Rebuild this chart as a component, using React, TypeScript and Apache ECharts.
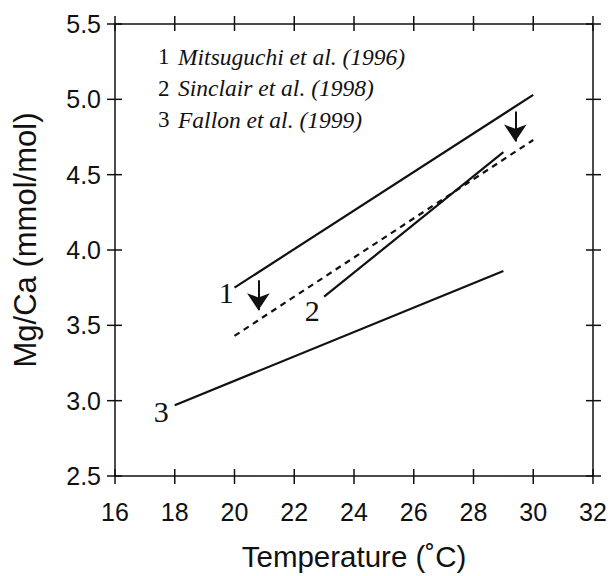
import React, { useEffect, useRef } from "react";
import * as echarts from "echarts";

const xTicks = { min: 16, max: 32, interval: 2 };
const yTicks = { min: 2.5, max: 5.5, interval: 0.5 };
const xTickValues = [16, 18, 20, 22, 24, 26, 28, 30, 32];
const yTickValues = [2.5, 3.0, 3.5, 4.0, 4.5, 5.0, 5.5];

const line1 = [[20, 3.75], [30, 5.03]];
const line1Corrected = [[20, 3.43], [30, 4.73]];
const line2 = [[23, 3.69], [29, 4.65]];
const line3 = [[18, 2.97], [29, 3.86]];
const arrows = [
  [[20.8, 3.8], [20.8, 3.6]],
  [[29.4, 4.92], [29.4, 4.72]],
];
const lineLabels = [
  [19.72, 3.72, "1"],
  [22.6, 3.6, "2"],
  [17.55, 2.93, "3"],
];
const legendNumbers = ["1", "2", "3"];
const legendNames = [
  "Mitsuguchi et al. (1996)",
  "Sinclair et al. (1998)",
  "Fallon et al. (1999)",
];
const xTitle = "Temperature (˚C)";
const yTitle = "Mg/Ca (mmol/mol)";

const INK = "#111";
const SANS = "'Liberation Sans', Arial, Helvetica, sans-serif";
const SERIF = "'Liberation Serif', 'Times New Roman', serif";
const TICK_OUT = 8;
const TICK_IN = 7;

export default function App() {
  const ref = useRef<HTMLDivElement>(null);
  useEffect(() => {
    if (!ref.current) return;
    const chart = echarts.init(ref.current, null, { renderer: "svg" });
    const solid = { color: INK, width: 2.2 };
    const tickStyle = { stroke: INK, lineWidth: 1.5 };
    const graphics: any[] = [];
    legendNumbers.forEach((n, i) => {
      const y = 45 + i * 31.5;
      graphics.push({
        type: "text",
        x: 158,
        y,
        style: { text: n, font: `23px ${SERIF}`, fill: INK, verticalAlign: "top" },
      });
      graphics.push({
        type: "text",
        x: 178,
        y,
        style: { text: legendNames[i], font: `italic 23.5px ${SERIF}`, fill: INK, verticalAlign: "top" },
      });
    });
    graphics.push({
      type: "text",
      x: 25,
      y: 240,
      rotation: Math.PI / 2,
      style: {
        text: yTitle,
        font: `31px ${SANS}`,
        fill: INK,
        align: "center",
        verticalAlign: "middle",
      },
    });
    const axisCommon = {
      axisLine: { show: true, onZero: false, lineStyle: { color: INK, width: 1.5 } },
      axisTick: { show: false },
      splitLine: { show: false },
    };
    chart.setOption({
      animation: false,
      backgroundColor: "#fff",
      grid: { left: 115, right: 20, top: 24, bottom: 99 },
      xAxis: [
        {
          type: "value",
          position: "bottom",
          min: xTicks.min,
          max: xTicks.max,
          interval: xTicks.interval,
          ...axisCommon,
          axisLabel: { show: true, fontFamily: SANS, fontSize: 25, color: INK, margin: 23 },
          name: xTitle,
          nameLocation: "middle",
          nameGap: 65,
          nameTextStyle: { fontFamily: SANS, fontSize: 29.5, color: INK },
        },
        {
          type: "value",
          position: "top",
          min: xTicks.min,
          max: xTicks.max,
          interval: xTicks.interval,
          ...axisCommon,
          axisLabel: { show: false },
        },
      ],
      yAxis: [
        {
          type: "value",
          position: "left",
          min: yTicks.min,
          max: yTicks.max,
          interval: yTicks.interval,
          ...axisCommon,
          axisLabel: {
            show: true,
            fontFamily: SANS,
            fontSize: 25,
            color: INK,
            margin: 14,
            formatter: (v: number) => v.toFixed(1),
          },
        },
        {
          type: "value",
          position: "right",
          min: yTicks.min,
          max: yTicks.max,
          interval: yTicks.interval,
          ...axisCommon,
          axisLabel: { show: false },
        },
      ],
      graphic: graphics,
      series: [
        { type: "line", data: line1, symbol: "none", lineStyle: solid },
        { type: "line", data: line1Corrected, symbol: "none", lineStyle: { color: INK, width: 2.2, type: [6, 5] } },
        { type: "line", data: line2, symbol: "none", lineStyle: solid },
        { type: "line", data: line3, symbol: "none", lineStyle: solid },
        {
          type: "lines",
          coordinateSystem: "cartesian2d",
          symbol: ["none", "arrow"],
          symbolSize: [8, 17],
          lineStyle: { color: INK, width: 2, opacity: 1 },
          data: arrows.map((c) => ({ coords: c })),
        },
        {
          type: "custom",
          clip: false,
          silent: true,
          data: xTickValues.map((v) => [v, yTicks.min]),
          renderItem: (_p: any, api: any) => {
            const v = api.value(0);
            const b = api.coord([v, yTicks.min]);
            const t = api.coord([v, yTicks.max]);
            return {
              type: "group",
              children: [
                { type: "line", shape: { x1: b[0], y1: b[1] - TICK_IN, x2: b[0], y2: b[1] + TICK_OUT }, style: tickStyle },
                { type: "line", shape: { x1: t[0], y1: t[1] - TICK_OUT, x2: t[0], y2: t[1] + TICK_IN }, style: tickStyle },
              ],
            };
          },
        },
        {
          type: "custom",
          clip: false,
          silent: true,
          data: yTickValues.map((v) => [xTicks.min, v]),
          renderItem: (_p: any, api: any) => {
            const v = api.value(1);
            const l = api.coord([xTicks.min, v]);
            const r = api.coord([xTicks.max, v]);
            return {
              type: "group",
              children: [
                { type: "line", shape: { x1: l[0] - TICK_OUT, y1: l[1], x2: l[0] + TICK_IN, y2: l[1] }, style: tickStyle },
                { type: "line", shape: { x1: r[0] - TICK_IN, y1: r[1], x2: r[0] + TICK_OUT, y2: r[1] }, style: tickStyle },
              ],
            };
          },
        },
        {
          type: "custom",
          clip: false,
          silent: true,
          data: lineLabels,
          renderItem: (_p: any, api: any) => {
            const c = api.coord([api.value(0), api.value(1)]);
            return {
              type: "text",
              x: c[0],
              y: c[1],
              style: {
                text: String(api.value(2)),
                font: `30px ${SERIF}`,
                fill: INK,
                align: "center",
                verticalAlign: "middle",
              },
            };
          },
        },
      ],
    });
    return () => chart.dispose();
  }, []);
  return (
    <div
      ref={ref}
      style={{ position: "fixed", left: 0, top: 0, width: 613, height: 576, background: "#fff" }}
    />
  );
}
